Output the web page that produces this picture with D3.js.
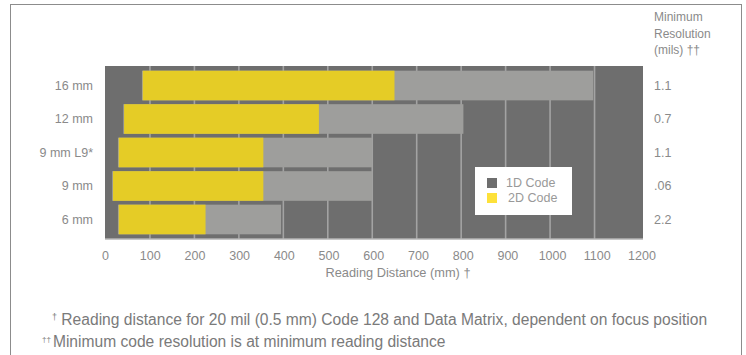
<!DOCTYPE html>
<html>
<head>
<meta charset="utf-8">
<script src="https://cdn.jsdelivr.net/npm/d3@7"></script>
<style>
  body { margin: 0; background: #fff; }
  svg text { font-family: "Liberation Sans", Arial, sans-serif; }
</style>
</head>
<body>
<div id="chart"></div>
<script>
// chart data
var codeSizes = ['16 mm', '12 mm', '9 mm L9*', '9 mm', '6 mm'];
var minDistance = [82, 40, 28, 15, 28];
var max2D = [650, 480, 355, 355, 225];
var max1D = [1097, 805, 600, 600, 395];
var minResolution = ['1.1', '0.7', '1.1', '.06', '2.2'];
var xTicks = [0, 100, 200, 300, 400, 500, 600, 700, 800, 900, 1000, 1100, 1200];
var legendItems = ['1D Code', '2D Code'];

var width = 746, height = 355;
var textColor = '#8a8a8a';

var svg = d3.select('#chart').append('svg')
            .attr('width', width)
            .attr('height', height);

// outer frame
svg.append('rect')
   .attr('x', 10.5).attr('y', 4.5)
   .attr('width', 731).attr('height', 400)
   .attr('fill', 'none')
   .attr('stroke', '#8c8c8c')
   .attr('stroke-width', 1);

var x = d3.scaleLinear().domain([0, 1200]).range([105.5, 639]);
var y = d3.scaleBand().domain(codeSizes).range([66, 239])
          .paddingInner(0.115).paddingOuter(0.14);

// plot background
svg.append('rect')
   .attr('x', 105).attr('y', 66)
   .attr('width', 643 - 105).attr('height', 239 - 66)
   .attr('fill', '#6e6e6e');

// grid lines
svg.append('g').selectAll('line')
   .data(xTicks.filter(d => d > 0 && d < 1200))
   .join('line')
   .attr('x1', d => x(d)).attr('x2', d => x(d))
   .attr('y1', 66).attr('y2', 239)
   .attr('stroke', '#a3a3a3')
   .attr('stroke-width', 1.6);

// baseline
svg.append('line')
   .attr('x1', 105).attr('x2', 643)
   .attr('y1', 239).attr('y2', 239)
   .attr('stroke', '#b5b5b5').attr('stroke-width', 1.5);

// 1D bars (grey)
svg.append('g').selectAll('rect')
   .data(codeSizes)
   .join('rect')
   .attr('x', (d, i) => x(minDistance[i]))
   .attr('y', d => y(d))
   .attr('width', (d, i) => x(max1D[i]) - x(minDistance[i]))
   .attr('height', y.bandwidth())
   .attr('fill', '#9e9e9c');

// 2D bars (yellow)
svg.append('g').selectAll('rect')
   .data(codeSizes)
   .join('rect')
   .attr('x', (d, i) => x(minDistance[i]) + 0.8)
   .attr('y', d => y(d))
   .attr('width', (d, i) => x(max2D[i]) - x(minDistance[i]) - 0.8)
   .attr('height', y.bandwidth())
   .attr('fill', '#e5cc26');

// category labels
svg.append('g').selectAll('text')
   .data(codeSizes)
   .join('text')
   .attr('x', 93)
   .attr('y', d => y(d) + y.bandwidth() / 2)
   .attr('dy', '0.35em')
   .attr('text-anchor', 'end')
   .attr('font-size', 12.5)
   .attr('fill', textColor)
   .text(d => d);

// resolution labels
svg.append('g').selectAll('text')
   .data(codeSizes)
   .join('text')
   .attr('x', 654)
   .attr('y', d => y(d) + y.bandwidth() / 2)
   .attr('dy', '0.35em')
   .attr('font-size', 12.5)
   .attr('fill', textColor)
   .text((d, i) => minResolution[i]);

var header = svg.append('text')
   .attr('x', 654).attr('y', 21)
   .attr('font-size', 12)
   .attr('fill', textColor);
['Minimum', 'Resolution', '(mils) ††'].forEach(function (t, i) {
  header.append('tspan').attr('x', 654).attr('dy', i == 0 ? 0 : 16.5).text(t);
});

// x axis labels
svg.append('g').selectAll('text')
   .data(xTicks)
   .join('text')
   .attr('x', d => x(d) + d / 1200 * 3)
   .attr('y', 260)
   .attr('text-anchor', 'middle')
   .attr('font-size', 12.5)
   .attr('fill', textColor)
   .text(d => d);

svg.append('text')
   .attr('x', 398).attr('y', 277)
   .attr('text-anchor', 'middle')
   .attr('font-size', 12.8)
   .attr('fill', textColor)
   .text('Reading Distance (mm) †');

// legend
svg.append('rect')
   .attr('x', 475).attr('y', 167)
   .attr('width', 97).attr('height', 48)
   .attr('fill', '#fff');

var legendColors = ['#6e6e6e', '#fde13a'];
var lg = svg.append('g').selectAll('g')
   .data(legendItems)
   .join('g')
   .attr('transform', (d, i) => 'translate(487,' + (178 + i * 15) + ')');
lg.append('rect')
  .attr('width', 10).attr('height', 10)
  .attr('fill', (d, i) => legendColors[i]);
lg.append('text')
  .attr('x', (d, i) => i == 0 ? 19 : 21).attr('y', 5)
  .attr('dy', '0.35em')
  .attr('font-size', 12.5)
  .attr('fill', '#999')
  .text(d => d);

// footnotes
var fn1 = svg.append('text')
   .attr('x', 52).attr('y', 325)
   .attr('font-size', 15.6)
   .attr('fill', '#7a7a7a');
fn1.append('tspan').attr('font-size', 9).attr('dy', -5).text('†');
fn1.append('tspan').attr('dy', 5).text(' Reading distance for 20 mil (0.5 mm) Code 128 and Data Matrix, dependent on focus position');

var fn2 = svg.append('text')
   .attr('x', 42).attr('y', 347)
   .attr('font-size', 15.6)
   .attr('fill', '#7a7a7a');
fn2.append('tspan').attr('font-size', 8).attr('dy', -5).text('††');
fn2.append('tspan').attr('dy', 5).attr('dx', 2).text('Minimum code resolution is at minimum reading distance');
</script>
</body>
</html>
